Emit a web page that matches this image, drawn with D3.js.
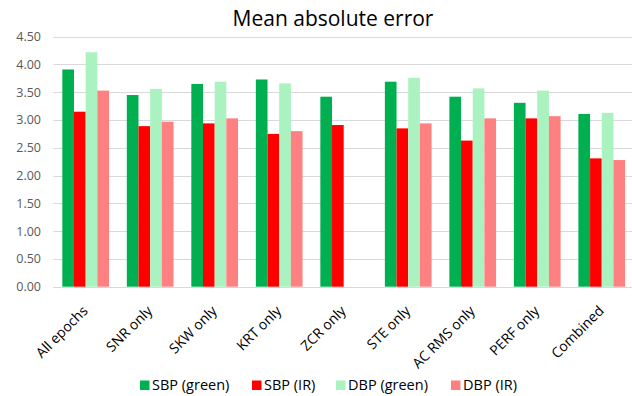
<!DOCTYPE html>
<html>
<head>
<meta charset="utf-8">
<script src="https://cdn.jsdelivr.net/npm/d3@7"></script>
<style>
  html, body { margin: 0; padding: 0; background: #fff; }
  svg { display: block; font-family: "Open Sans", "Noto Sans", sans-serif; }
</style>
</head>
<body>
<div id="chart"></div>
<script>
const categories = ["All epochs", "SNR only", "SKW only", "KRT only", "ZCR only", "STE only", "AC RMS only", "PERF only", "Combined"];
const seriesNames = ["SBP (green)", "SBP (IR)", "DBP (green)", "DBP (IR)"];
const seriesColors = ["#00b050", "#ff0000", "#aaf2c0", "#ff8080"];
const sbpGreen = [3.91, 3.45, 3.65, 3.73, 3.42, 3.69, 3.42, 3.31, 3.11];
const sbpIR    = [3.15, 2.89, 2.94, 2.75, 2.91, 2.85, 2.63, 3.03, 2.31];
const dbpGreen = [4.22, 3.56, 3.69, 3.66, null, 3.76, 3.57, 3.53, 3.13];
const dbpIR    = [3.53, 2.97, 3.03, 2.80, null, 2.94, 3.03, 3.07, 2.28];
const yTicks = [0, 0.5, 1, 1.5, 2, 2.5, 3, 3.5, 4, 4.5];

const series = [sbpGreen, sbpIR, dbpGreen, dbpIR];
const width = 632, height = 396;
const margin = { left: 53.4, right: -2, top: 36.7, bottom: 109.3 };

const svg = d3.select("#chart").append("svg")
  .attr("width", width)
  .attr("height", height);

const x = d3.scaleBand()
  .domain(categories)
  .range([margin.left, width - margin.right])
  .paddingInner(0.276)
  .paddingOuter(0.138);

const xs = d3.scaleBand()
  .domain(d3.range(series.length))
  .range([0, x.bandwidth()]);

const y = d3.scaleLinear()
  .domain([0, 4.5])
  .range([height - margin.bottom, margin.top]);

// gridlines
svg.append("g")
  .selectAll("line")
  .data(yTicks)
  .join("line")
  .attr("x1", margin.left)
  .attr("x2", width)
  .attr("y1", d => Math.round(y(d)) + 0.5)
  .attr("y2", d => Math.round(y(d)) + 0.5)
  .attr("stroke", "#d9d9d9")
  .attr("stroke-width", 1);

// y labels
svg.append("g")
  .selectAll("text")
  .data(yTicks)
  .join("text")
  .attr("x", 41)
  .attr("y", d => y(d))
  .attr("dy", "0.35em")
  .attr("text-anchor", "end")
  .attr("font-size", 12.5)
  .attr("fill", "#595959")
  .text(d => d.toFixed(2));

// bars
const groups = svg.append("g")
  .selectAll("g")
  .data(categories)
  .join("g")
  .attr("transform", d => `translate(${x(d)},0)`);

groups.selectAll("rect")
  .data((d, i) => series.map((s, j) => ({ j, v: s[i] })).filter(e => e.v != null))
  .join("rect")
  .attr("x", e => xs(e.j))
  .attr("width", xs.bandwidth())
  .attr("y", e => y(e.v))
  .attr("height", e => y(0) - y(e.v))
  .attr("fill", e => seriesColors[e.j]);

// baseline
svg.append("line")
  .attr("x1", margin.left)
  .attr("x2", width)
  .attr("y1", Math.round(y(0)) + 0.5)
  .attr("y2", Math.round(y(0)) + 0.5)
  .attr("stroke", "#d9d9d9");

// category labels
svg.append("g")
  .selectAll("text")
  .data(categories)
  .join("text")
  .attr("transform", d => `translate(${x(d) + x.bandwidth() / 2 + 3},${y(0) + 25}) rotate(-45)`)
  .attr("text-anchor", "end")
  .attr("font-size", 14)
  .attr("fill", "#000")
  .text(d => d);

// title
svg.append("text")
  .attr("x", 333)
  .attr("y", 26)
  .attr("text-anchor", "middle")
  .attr("font-size", 21)
  .attr("fill", "#000")
  .text("Mean absolute error");

// legend
const legendX = [140, 252, 336, 451];
const legend = svg.append("g")
  .selectAll("g")
  .data(seriesNames)
  .join("g")
  .attr("transform", (d, i) => `translate(${legendX[i]},385)`);
legend.append("rect")
  .attr("x", 0).attr("y", -4.5)
  .attr("width", 9.5).attr("height", 9.5)
  .attr("fill", (d, i) => seriesColors[i]);
legend.append("text")
  .attr("x", 12)
  .attr("dy", "0.35em")
  .attr("font-size", 14.5)
  .attr("fill", "#000")
  .text(d => d);
</script>
</body>
</html>
